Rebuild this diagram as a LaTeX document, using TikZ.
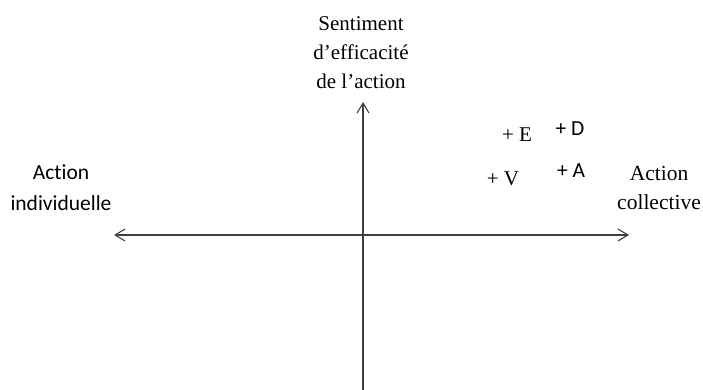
\documentclass[tikz,border=0pt]{standalone}
\usepackage{fontspec}
\setmainfont{Liberation Serif}
\newfontfamily\calib[Ligatures={NoCommon}]{Carlito}
\usetikzlibrary{arrows.meta}
\tikzset{
  axis/.style={draw=black!75, line width=1.1pt, arrows={Straight Barb[length=10pt,width=12pt,line width=1.1pt]-Straight Barb[length=10pt,width=12pt,line width=1.1pt]}},
  axisone/.style={draw=black!75, line width=1.1pt, -{Straight Barb[length=10pt,width=12pt,line width=1.1pt]}},
  serif/.style={inner sep=0pt, anchor=base, font=\fontsize{21}{29}\selectfont, align=center},
  sans/.style={inner sep=0pt, anchor=base, font=\calib\fontsize{21.5}{31}\selectfont, align=center}
}
\begin{document}
\begin{tikzpicture}[x=1pt,y=-1pt]
\useasboundingbox (0,0) rectangle (703,390);
\coordinate (L) at (114,235);
\coordinate (R) at (629,235);
\coordinate (T) at (363,102);
\coordinate (B) at (363,390);
\draw[axis] (L) -- (R);
\draw[axisone] (B) -- (T);
\node[serif] (sent) at (361,89) {Sentiment\\d’efficacité\\de l’action};
\node[sans] (ind) at (61,210) {Action\\individuelle};
\node[serif, font=\fontsize{21.5}{29}\selectfont] (col) at (659,209) {Action\\collective};
\node[serif] (E) at (517,142) {+ E};
\node[sans] (D) at (570,136) {+ D};
\node[serif] (V) at (503,185) {+ V};
\node[sans] (A) at (571,178) {+ A};
\end{tikzpicture}
\end{document}
